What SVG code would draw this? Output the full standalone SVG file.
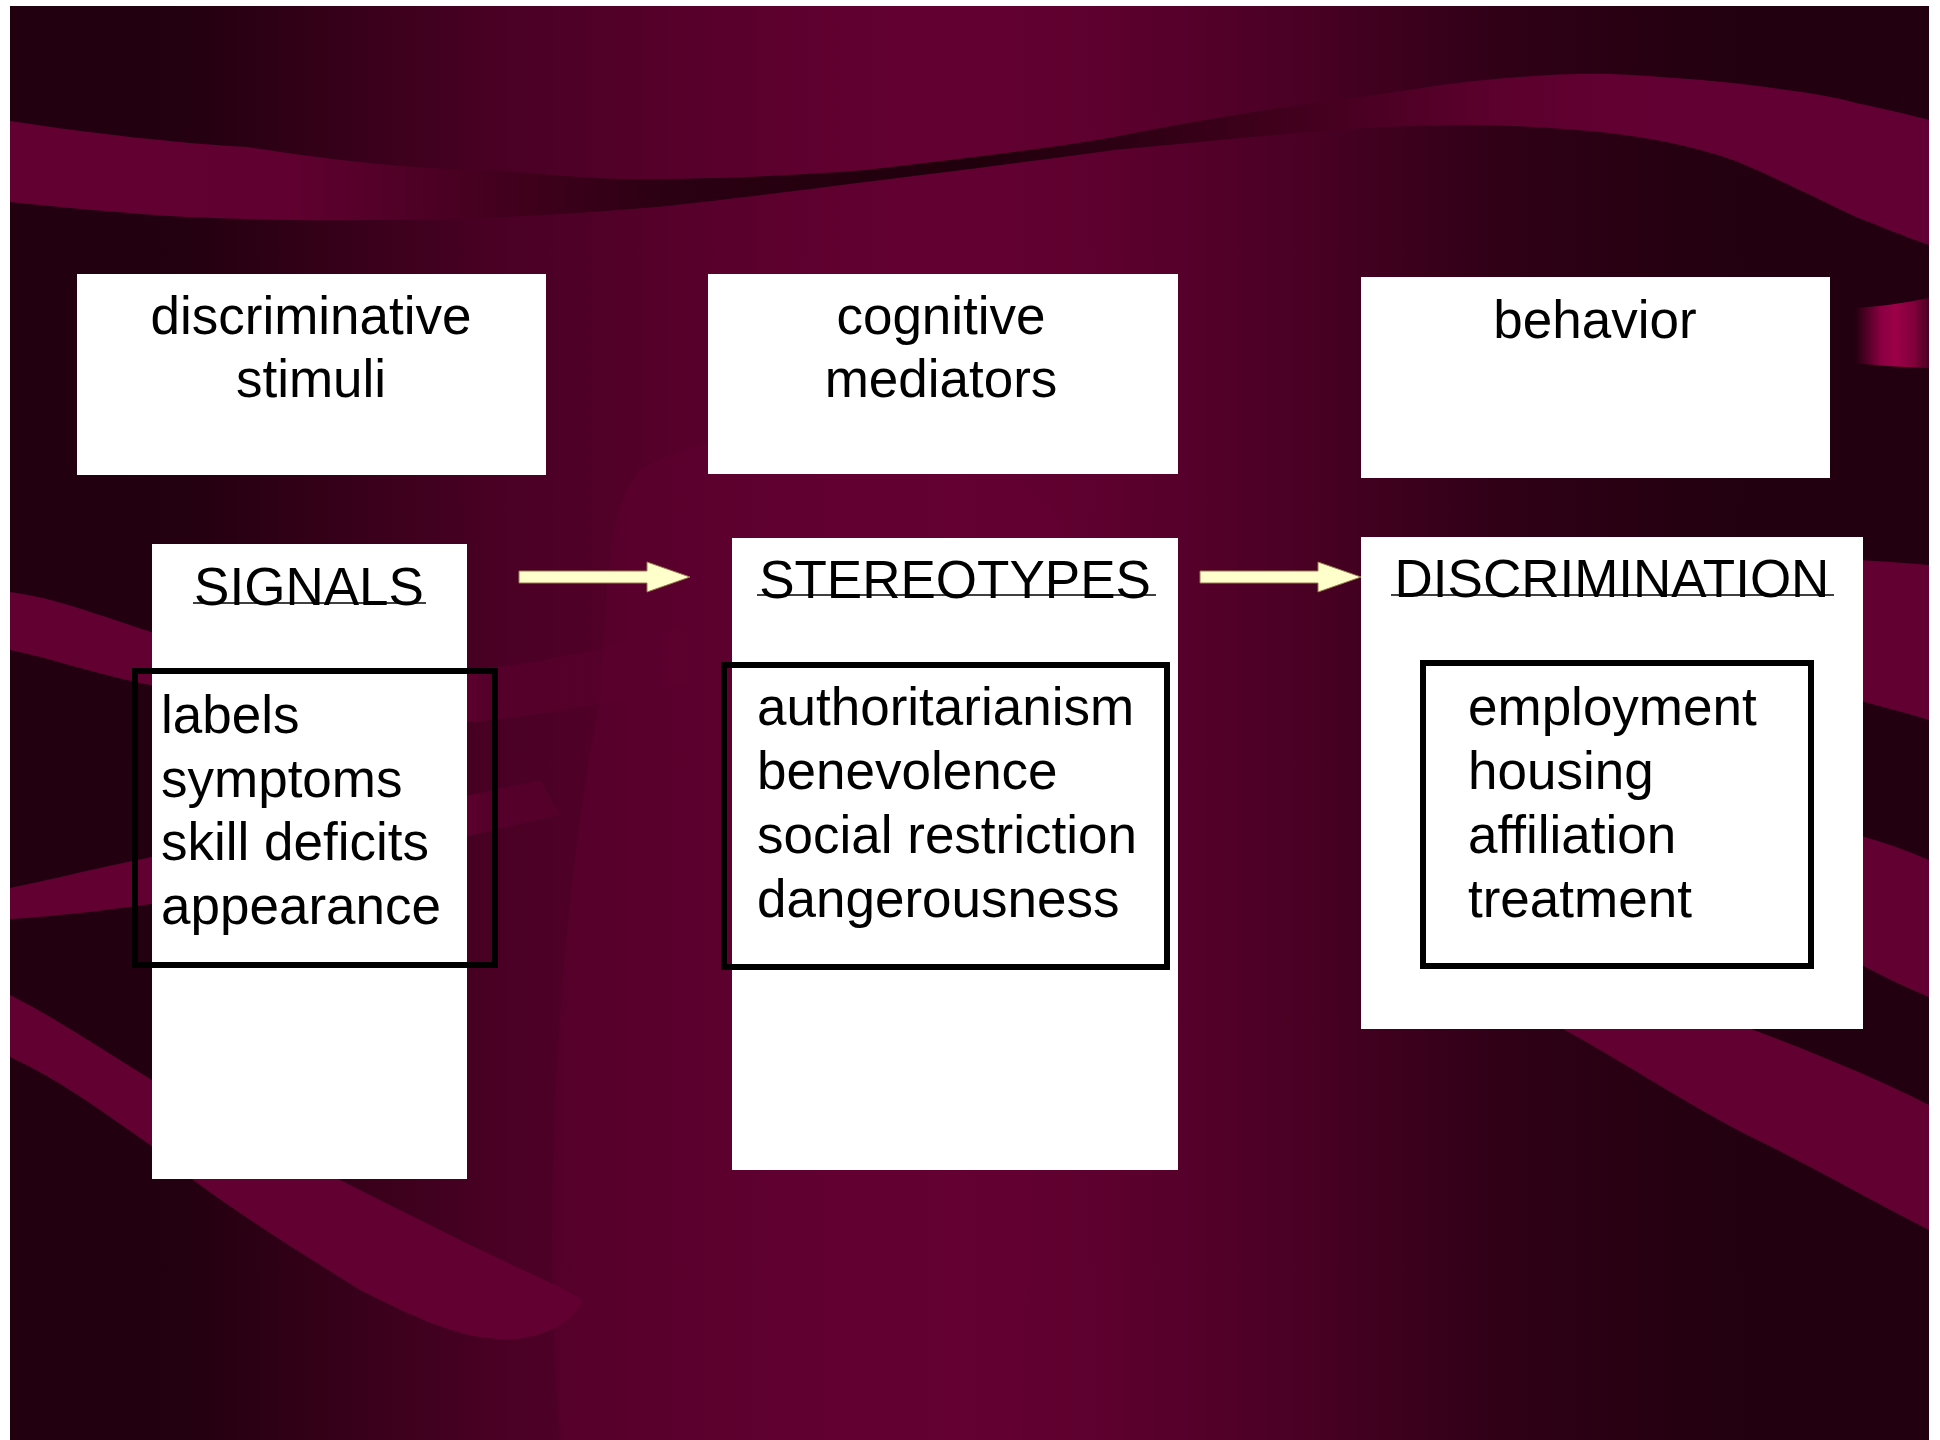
<svg xmlns="http://www.w3.org/2000/svg" width="1940" height="1440" viewBox="0 0 1940 1440">
<defs>
<linearGradient id="bg" gradientUnits="userSpaceOnUse" x1="0" y1="0" x2="1940" y2="0">
<stop offset="0" stop-color="#220010"/>
<stop offset="0.1" stop-color="#240010"/>
<stop offset="0.258" stop-color="#4a0024"/>
<stop offset="0.41" stop-color="#5e002f"/>
<stop offset="0.49" stop-color="#630032"/>
<stop offset="0.567" stop-color="#5e002f"/>
<stop offset="0.67" stop-color="#4a0024"/>
<stop offset="0.773" stop-color="#300017"/>
<stop offset="0.876" stop-color="#240010"/>
<stop offset="1" stop-color="#220010"/>
</linearGradient>
<linearGradient id="rib" gradientUnits="userSpaceOnUse" x1="0" y1="0" x2="1940" y2="0">
<stop offset="0" stop-color="#620032"/>
<stop offset="0.15" stop-color="#600030"/>
<stop offset="0.25" stop-color="#45001f"/>
<stop offset="0.35" stop-color="#2a0012"/>
<stop offset="0.5" stop-color="#20000c"/>
<stop offset="0.58" stop-color="#2e0014"/>
<stop offset="0.68" stop-color="#45001f"/>
<stop offset="0.77" stop-color="#5c002d"/>
<stop offset="0.85" stop-color="#630033"/>
<stop offset="1" stop-color="#630033"/>
</linearGradient>
<linearGradient id="patch" gradientUnits="userSpaceOnUse" x1="1855" y1="0" x2="1929" y2="0">
<stop offset="0" stop-color="#22000f"/>
<stop offset="0.35" stop-color="#8a0042"/>
<stop offset="0.55" stop-color="#9c0048"/>
<stop offset="0.8" stop-color="#80003b"/>
<stop offset="1" stop-color="#4a0022"/>
</linearGradient>
<linearGradient id="fadeA" gradientUnits="userSpaceOnUse" x1="0" y1="0" x2="740" y2="0">
<stop offset="0" stop-color="#610031"/>
<stop offset="0.62" stop-color="#610031"/>
<stop offset="0.66" stop-color="#630033" stop-opacity="0.45"/>
<stop offset="1" stop-color="#630033" stop-opacity="0"/>
</linearGradient>
<style>
.box{fill:#ffffff}
.frame{fill:none;stroke:#000000;stroke-width:6}
.t{font-family:"Liberation Sans",Arial,Helvetica,sans-serif;font-size:53px;fill:#000000}
.c{text-anchor:middle}
.ul{stroke:#000000;stroke-width:1.5}
.arrow{fill:#ffffcc;stroke:#9a7a50;stroke-width:1}
.crim{fill:#610031}
.soft{fill:#660036;opacity:0.3}
</style>
</defs>

<rect x="0" y="0" width="1940" height="1440" fill="#ffffff"/>
<g id="background">
<rect x="10" y="6" width="1919" height="1434" fill="url(#bg)"/>
<path class="soft" d="M640,470 C760,400 980,420 1060,520 L1020,1440 L560,1440 C540,1200 560,900 600,700 C610,600 600,520 640,470 Z"/>
<path fill="url(#rib)" d="M10,121 C100,135 200,145 248,147 C330,160 420,170 495,170 C560,176 610,180 656,179 C740,178 800,175 866,170 C950,160 1040,150 1114,137 C1200,120 1290,105 1361,97 C1410,90 1450,83 1485,80 C1530,76 1570,73 1609,74 C1660,76 1700,80 1733,83 C1790,90 1830,95 1856,103 C1890,110 1910,115 1929,120 L1929,245 C1900,235 1880,226 1856,217 C1810,195 1770,175 1733,160 C1690,145 1650,138 1609,133 C1560,128 1520,126 1485,125 C1440,125 1400,126 1361,128 C1280,134 1200,142 1114,150 C1040,160 950,172 866,182 C780,193 720,200 656,207 C560,215 470,220 371,220 C300,221 240,219 186,217 C120,213 60,207 10,202 Z"/>
<path fill="url(#patch)" d="M1855,308 Q1890,306 1929,298 L1929,368 Q1890,367 1855,363 Z"/>
<path fill="url(#fadeA)" d="M10,592 C70,600 120,625 180,640 C300,665 400,672 470,670 C560,662 640,640 720,615 L720,675 C640,695 560,715 470,722 C380,722 300,705 180,690 C110,680 60,660 10,650 Z"/>
<path fill="url(#fadeA)" d="M10,888 C60,878 110,864 180,852 C300,832 400,810 540,780 L560,815 C400,850 300,880 180,900 C110,910 60,916 10,919 Z"/>
<path class="crim" d="M10,995 C60,1020 110,1055 160,1085 C260,1140 360,1190 440,1230 C520,1270 570,1290 582,1300 C575,1325 530,1345 489,1338 C450,1335 400,1310 360,1290 C280,1240 200,1190 150,1145 C100,1110 60,1080 10,1057 Z"/>
<path class="crim" d="M1700,545 C1780,555 1860,560 1929,565 L1929,720 C1860,700 1780,680 1700,665 Z"/>
<path class="crim" d="M1700,800 C1780,815 1860,830 1929,860 L1929,997 C1900,985 1880,975 1862,965 C1800,930 1750,900 1700,880 Z"/>
<path class="crim" d="M1500,960 C1560,990 1680,1010 1751,1029 C1820,1055 1880,1080 1929,1105 L1929,1230 C1860,1195 1800,1160 1743,1133 C1680,1100 1620,1060 1563,1029 C1540,1010 1520,990 1500,960 Z"/>
</g>

<g id="node-discriminative-stimuli">
<rect class="box" x="77" y="274" width="469" height="201"/>
<text class="t c" x="311" y="334">discriminative</text>
<text class="t c" x="311" y="397">stimuli</text>
</g>
<g id="node-cognitive-mediators">
<rect class="box" x="708" y="274" width="470" height="200"/>
<text class="t c" x="941" y="334">cognitive</text>
<text class="t c" x="941" y="397">mediators</text>
</g>
<g id="node-behavior">
<rect class="box" x="1361" y="277" width="469" height="201"/>
<text class="t c" x="1595" y="338">behavior</text>
</g>

<g id="node-signals">
<rect class="box" x="152" y="544" width="315" height="635"/>
<text class="t c" x="309" y="605">SIGNALS</text>
<line class="ul" x1="193" y1="603" x2="426" y2="603"/>
<rect class="frame" x="135" y="671" width="360" height="294"/>
<text class="t" x="161" y="733">labels</text>
<text class="t" x="161" y="797">symptoms</text>
<text class="t" x="161" y="860">skill deficits</text>
<text class="t" x="161" y="924">appearance</text>
</g>

<g id="node-stereotypes">
<rect class="box" x="732" y="538" width="446" height="632"/>
<text class="t c" x="955" y="598">STEREOTYPES</text>
<line class="ul" x1="757" y1="595" x2="1156" y2="595"/>
<rect class="frame" x="724" y="665" width="443" height="302"/>
<text class="t" x="757" y="725">authoritarianism</text>
<text class="t" x="757" y="789">benevolence</text>
<text class="t" x="757" y="853">social restriction</text>
<text class="t" x="757" y="917">dangerousness</text>
</g>

<g id="node-discrimination">
<rect class="box" x="1361" y="537" width="502" height="492"/>
<text class="t c" x="1612" y="597">DISCRIMINATION</text>
<line class="ul" x1="1391" y1="595" x2="1834" y2="595"/>
<rect class="frame" x="1423" y="663" width="388" height="303"/>
<text class="t" x="1468" y="725">employment</text>
<text class="t" x="1468" y="789">housing</text>
<text class="t" x="1468" y="853">affiliation</text>
<text class="t" x="1468" y="917">treatment</text>
</g>

<g id="connectors">
<polygon class="arrow" points="519,571 647,571 647,562 690,577 647,592 647,583 519,583"/>
<polygon class="arrow" points="1200,571 1318,571 1318,562 1361,577 1318,592 1318,583 1200,583"/>
</g>
</svg>
